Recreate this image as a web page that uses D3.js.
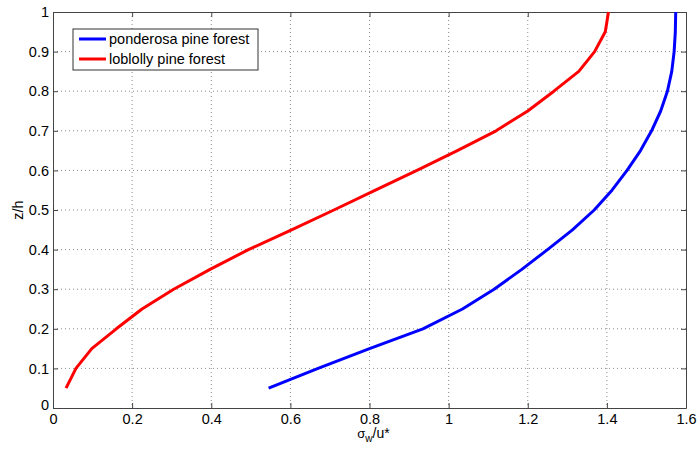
<!DOCTYPE html>
<html>
<head>
<meta charset="utf-8">
<script src="https://cdn.jsdelivr.net/npm/d3@7"></script>
<style>
  body { margin: 0; background: #fff; }
  text { font-family: "Liberation Sans", Arial, sans-serif; fill: #000; }
  .grid line { stroke: #8c8c8c; stroke-dasharray: 1,3; stroke-width: 1; }
</style>
</head>
<body>
<div id="chart"></div>
<script>
// heights (z/h) shared by both profiles
const zh = [0.05, 0.1, 0.15, 0.2, 0.25, 0.3, 0.35, 0.4, 0.45, 0.5,
            0.55, 0.6, 0.65, 0.7, 0.75, 0.8, 0.85, 0.9, 0.95, 1.0];

// sigma_w / u*
const ponderosa = [0.545, 0.67, 0.80, 0.935, 1.035, 1.115, 1.185, 1.25, 1.313, 1.368,
                   1.413, 1.451, 1.485, 1.513, 1.536, 1.553, 1.564, 1.570, 1.573, 1.574];
const loblolly = [0.033, 0.058, 0.098, 0.16, 0.225, 0.305, 0.397, 0.494, 0.603, 0.71,
                  0.815, 0.92, 1.022, 1.12, 1.2, 1.266, 1.329, 1.369, 1.396, 1.404];

const seriesNames = ["ponderosa pine forest", "loblolly pine forest"];
const seriesColors = ["#0000ff", "#ff0000"];
const xTicks = [0, 0.2, 0.4, 0.6, 0.8, 1, 1.2, 1.4, 1.6];
const yTicks = [0, 0.1, 0.2, 0.3, 0.4, 0.5, 0.6, 0.7, 0.8, 0.9, 1];

const width = 698, height = 452;
const margin = {top: 12, right: 12, bottom: 44, left: 53};
const w = width - margin.left - margin.right;
const h = height - margin.top - margin.bottom;
const fontSize = 14.5;

const svg = d3.select("#chart").append("svg")
    .attr("width", width)
    .attr("height", height);

const g = svg.append("g")
    .attr("transform", "translate(" + margin.left + "," + margin.top + ")");

let x = d3.scaleLinear().domain([0, 1.6]).range([0, w]);
let y = d3.scaleLinear().domain([0, 1]).range([h, 0]);

// grid
g.append("g").attr("class", "grid")
    .selectAll("line").data(xTicks.slice(1, -1)).enter().append("line")
    .attr("x1", d => x(d)).attr("x2", d => x(d))
    .attr("y1", 0).attr("y2", h);
g.append("g").attr("class", "grid")
    .selectAll("line").data(yTicks.slice(1, -1)).enter().append("line")
    .attr("y1", d => y(d)).attr("y2", d => y(d))
    .attr("x1", 0).attr("x2", w);

// axes (ticks pointing inward, matlab style)
const fmt = d => String(d);
let xAxis = g.append("g")
    .attr("transform", "translate(0," + h + ")")
    .call(d3.axisBottom(x).tickValues(xTicks).tickFormat(fmt).tickSizeInner(-5).tickSizeOuter(0).tickPadding(6));
let yAxis = g.append("g")
    .call(d3.axisLeft(y).tickValues(yTicks).tickFormat(fmt).tickSizeInner(-5).tickSizeOuter(0).tickPadding(4));
g.append("g")
    .call(d3.axisTop(x).tickValues(xTicks).tickFormat("").tickSizeInner(-5).tickSizeOuter(0));
g.append("g")
    .attr("transform", "translate(" + w + ",0)")
    .call(d3.axisRight(y).tickValues(yTicks).tickFormat("").tickSizeInner(-5).tickSizeOuter(0));

svg.selectAll(".domain").attr("stroke", "#444");
svg.selectAll(".tick line").attr("stroke", "#444");
svg.selectAll(".tick text").attr("font-size", fontSize).attr("font-family", "Liberation Sans, Arial, sans-serif");

// the "0" on y sits a bit lower than the rest, like matlab does
yAxis.selectAll(".tick text").filter(d => d === 0).attr("dy", "0.1em");

// curves
const line = d3.line()
    .x(d => x(d[0]))
    .y(d => y(d[1]));

[ponderosa, loblolly].forEach(function (vals, i) {
    g.append("path")
        .datum(vals.map((v, k) => [v, zh[k]]))
        .attr("fill", "none")
        .attr("stroke", seriesColors[i])
        .attr("stroke-width", 3)
        .attr("stroke-linejoin", "round")
        .attr("d", line);
});

// legend
let legend = g.append("g").attr("transform", "translate(20,17)");
legend.append("rect")
    .attr("width", 185).attr("height", 41)
    .attr("fill", "#fff").attr("stroke", "#333").attr("stroke-width", 1);
seriesNames.forEach(function (name, i) {
    let row = legend.append("g").attr("transform", "translate(0," + (10 + i * 20) + ")");
    row.append("line")
        .attr("x1", 6).attr("x2", 33)
        .attr("stroke", seriesColors[i]).attr("stroke-width", 3);
    row.append("text")
        .attr("x", 36).attr("dy", "0.35em")
        .attr("font-size", fontSize)
        .text(name);
});

// labels
svg.append("text")
    .attr("x", margin.left + w / 2 + 4).attr("y", 438)
    .attr("text-anchor", "middle")
    .attr("font-size", 13)
    .html("σ<tspan dy='4' font-size='10'>w</tspan><tspan dy='-4' font-size='14'>/u*</tspan>");

svg.append("text")
    .attr("transform", "translate(23," + (margin.top + h / 2) + ") rotate(-90)")
    .attr("text-anchor", "middle")
    .attr("font-size", fontSize)
    .text("z/h");
</script>
</body>
</html>
